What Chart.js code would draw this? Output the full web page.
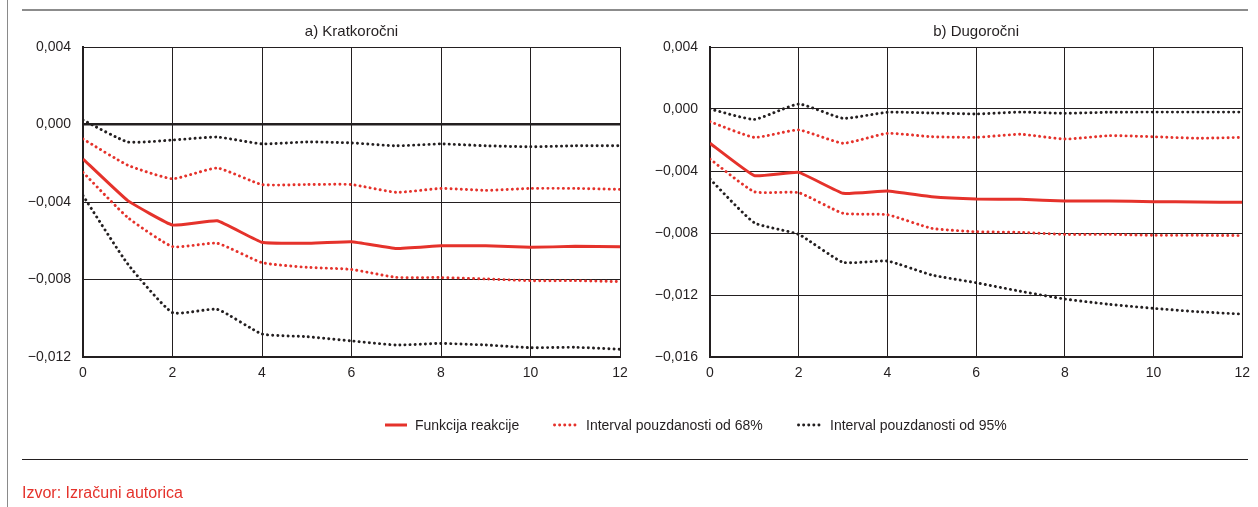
<!DOCTYPE html>
<html>
<head>
<meta charset="utf-8">
<script src="https://cdn.jsdelivr.net/npm/chart.js@4.4.1/dist/chart.umd.min.js"></script>
<style>
  html, body { margin: 0; padding: 0; background: #fff; }
  #page { position: relative; width: 1258px; height: 507px; overflow: hidden; font-family: 'Liberation Sans', Arial, sans-serif; color: #231f20; }
  .rule { position: absolute; }
  canvas { position: absolute; top: 0; }
  #legend { position: absolute; left: 0; top: 0; width: 1258px; height: 507px; pointer-events: none; }
  .lg-item { position: absolute; top: 416px; height: 18px; display: flex; align-items: center; font-size: 14px; white-space: nowrap; }
  .lg-item svg { margin-right: 8px; }
  #source { position: absolute; left: 22px; top: 484px; font-size: 16px; color: #e5322b; }
</style>
</head>
<body>
<div id="page">
  <div class="rule" style="left:7px;top:0;width:1px;height:507px;background:#8a8a8a"></div>
  <div class="rule" style="left:22px;top:9px;width:1226px;height:2px;background:#8c8c8c"></div>
  <div class="rule" style="left:22px;top:459px;width:1226px;height:1px;background:#231f20"></div>
  <canvas id="chartA" width="640" height="400" style="left:0"></canvas>
  <canvas id="chartB" width="618" height="400" style="left:640px"></canvas>
  <div id="legend"></div>
  <div id="source">Izvor: Izračuni autorica</div>
</div>
<script>
// Horizon (quarters after the shock)
const horizon = [0, 1, 2, 3, 4, 5, 6, 7, 8, 9, 10, 11, 12];
const xTicks = [0, 2, 4, 6, 8, 10, 12];

// a) Kratkoročni
const titleA = 'a) Kratkoročni';
const yTicksA = [0.004, 0.000, -0.004, -0.008, -0.012];
const respA  = [-0.00178, -0.00393, -0.00519, -0.00497, -0.00608, -0.00613, -0.00605, -0.00640, -0.00626, -0.00626, -0.00634, -0.00629, -0.00631];
const up68A  = [-0.00075, -0.00210, -0.00280, -0.00225, -0.00310, -0.00310, -0.00310, -0.00350, -0.00330, -0.00340, -0.00330, -0.00330, -0.00335];
const lo68A  = [-0.00247, -0.00480, -0.00630, -0.00613, -0.00713, -0.00737, -0.00748, -0.00789, -0.00790, -0.00797, -0.00806, -0.00806, -0.00811];
const up95A  = [ 0.00023, -0.00090, -0.00080, -0.00065, -0.00100, -0.00090, -0.00095, -0.00110, -0.00100, -0.00110, -0.00115, -0.00110, -0.00110];
const lo95A  = [-0.00367, -0.00720, -0.00971, -0.00954, -0.01081, -0.01095, -0.01117, -0.01138, -0.01130, -0.01138, -0.01152, -0.01150, -0.01160];

// b) Dugoročni
const titleB = 'b) Dugoročni';
const yTicksB = [0.004, 0.000, -0.004, -0.008, -0.012, -0.016];
const respB  = [-0.00221, -0.00430, -0.00409, -0.00544, -0.00529, -0.00566, -0.00581, -0.00583, -0.00594, -0.00594, -0.00598, -0.00600, -0.00602];
const up68B  = [-0.00082, -0.00183, -0.00135, -0.00221, -0.00157, -0.00179, -0.00183, -0.00163, -0.00194, -0.00172, -0.00179, -0.00189, -0.00183];
const lo68B  = [-0.00323, -0.00534, -0.00540, -0.00673, -0.00682, -0.00770, -0.00792, -0.00796, -0.00809, -0.00809, -0.00815, -0.00815, -0.00817];
const up95B  = [ 0.00000, -0.00067,  0.00032, -0.00060, -0.00021, -0.00026, -0.00032, -0.00020, -0.00028, -0.00021, -0.00020, -0.00020, -0.00020];
const lo95B  = [-0.00452, -0.00734, -0.00809, -0.00989, -0.00981, -0.01071, -0.01121, -0.01176, -0.01226, -0.01260, -0.01286, -0.01308, -0.01323];

const seriesNames = ['Funkcija reakcije', 'Interval pouzdanosti od 68%', 'Interval pouzdanosti od 95%'];

const FONT = "'Liberation Sans', Arial, sans-serif";
const RED = '#e5322b';
const DARK = '#231f20';

const fmt = v => (v < 0 ? '\u2212' : '') + Math.abs(v).toFixed(3).replace('.', ',');
const pts = vals => horizon.map((x, i) => ({ x, y: vals[i] }));

const solid = (label, vals) => ({
  label, data: pts(vals), borderColor: RED, borderWidth: 3,
  pointRadius: 0, tension: 0.1, fill: false, order: 0
});
const dotted = (label, vals, color) => ({
  label, data: pts(vals), borderColor: color, borderWidth: 2.9,
  borderDash: [0.1, 5], borderCapStyle: 'round',
  pointRadius: 0, tension: 0.15, fill: false, order: 1
});

// Panel heading centred over the plot area
const panelTitle = {
  id: 'panelTitle',
  afterDraw(chart, args, opts) {
    const { ctx, chartArea } = chart;
    ctx.save();
    ctx.font = '15px ' + FONT;
    ctx.fillStyle = DARK;
    ctx.textAlign = 'center';
    ctx.textBaseline = 'alphabetic';
    ctx.fillText(opts.text, (chartArea.left + chartArea.right) / 2, opts.y);
    ctx.restore();
  }
};

function makeChart(id, title, yTicks, sets, yWidth, rightPad, boldZero) {
  const yMin = Math.min(...yTicks), yMax = Math.max(...yTicks);
  return new Chart(document.getElementById(id), {
    type: 'line',
    data: {
      datasets: [
        dotted(seriesNames[2], sets.up95, DARK),
        dotted(seriesNames[2], sets.lo95, DARK),
        dotted(seriesNames[1], sets.up68, RED),
        dotted(seriesNames[1], sets.lo68, RED),
        solid(seriesNames[0], sets.resp)
      ]
    },
    options: {
      responsive: false,
      animation: false,
      devicePixelRatio: 1,
      layout: { autoPadding: false, padding: { left: 0, top: 47, right: rightPad, bottom: 13 } },
      plugins: {
        legend: { display: false },
        tooltip: { enabled: false },
        panelTitle: { text: title, y: 36 }
      },
      scales: {
        x: {
          type: 'linear', min: 0, max: 12,
          afterBuildTicks: s => { s.ticks = xTicks.map(v => ({ value: v })); },
          afterFit: s => { s.height = 30; },
          grid: { color: DARK, lineWidth: 1, drawTicks: false },
          border: { color: DARK, width: 2 },
          ticks: { padding: 8, color: DARK, maxRotation: 0, font: { family: FONT, size: 14 } }
        },
        y: {
          min: yMin, max: yMax,
          afterBuildTicks: s => { s.ticks = yTicks.map(v => ({ value: v })); },
          afterFit: s => { s.width = yWidth; },
          grid: {
            color: DARK, drawTicks: false,
            lineWidth: ctx => (boldZero && ctx.tick && ctx.tick.value === 0) ? 2.5 : 1
          },
          border: { color: DARK, width: 2 },
          ticks: { padding: 12, color: DARK, callback: v => fmt(v), font: { family: FONT, size: 14 } }
        }
      }
    },
    plugins: [panelTitle]
  });
}

makeChart('chartA', titleA, yTicksA,
  { resp: respA, up68: up68A, lo68: lo68A, up95: up95A, lo95: lo95A }, 83, 20, true);
makeChart('chartB', titleB, yTicksB,
  { resp: respB, up68: up68B, lo68: lo68B, up95: up95B, lo95: lo95B }, 70, 11, false);

// Shared legend beneath both panels
const legendItems = [
  { left: 385, color: RED, dash: null, text: seriesNames[0] },
  { left: 553, color: RED, dash: '0.1 5', text: seriesNames[1] },
  { left: 797, color: DARK, dash: '0.1 5', text: seriesNames[2] }
];
const legend = document.getElementById('legend');
legendItems.forEach(it => {
  const d = document.createElement('div');
  d.className = 'lg-item';
  d.style.left = it.left + 'px';
  const w = it.dash ? 25 : 22;
  const stroke = it.dash
    ? `stroke-width="2.9" stroke-dasharray="${it.dash}" stroke-linecap="round"`
    : `stroke-width="3"`;
  d.innerHTML = `<svg width="${w}" height="6"><line x1="${it.dash ? 1.5 : 0}" y1="3" x2="${w}" y2="3" stroke="${it.color}" ${stroke}/></svg><span>${it.text}</span>`;
  legend.appendChild(d);
});
</script>
</body>
</html>
